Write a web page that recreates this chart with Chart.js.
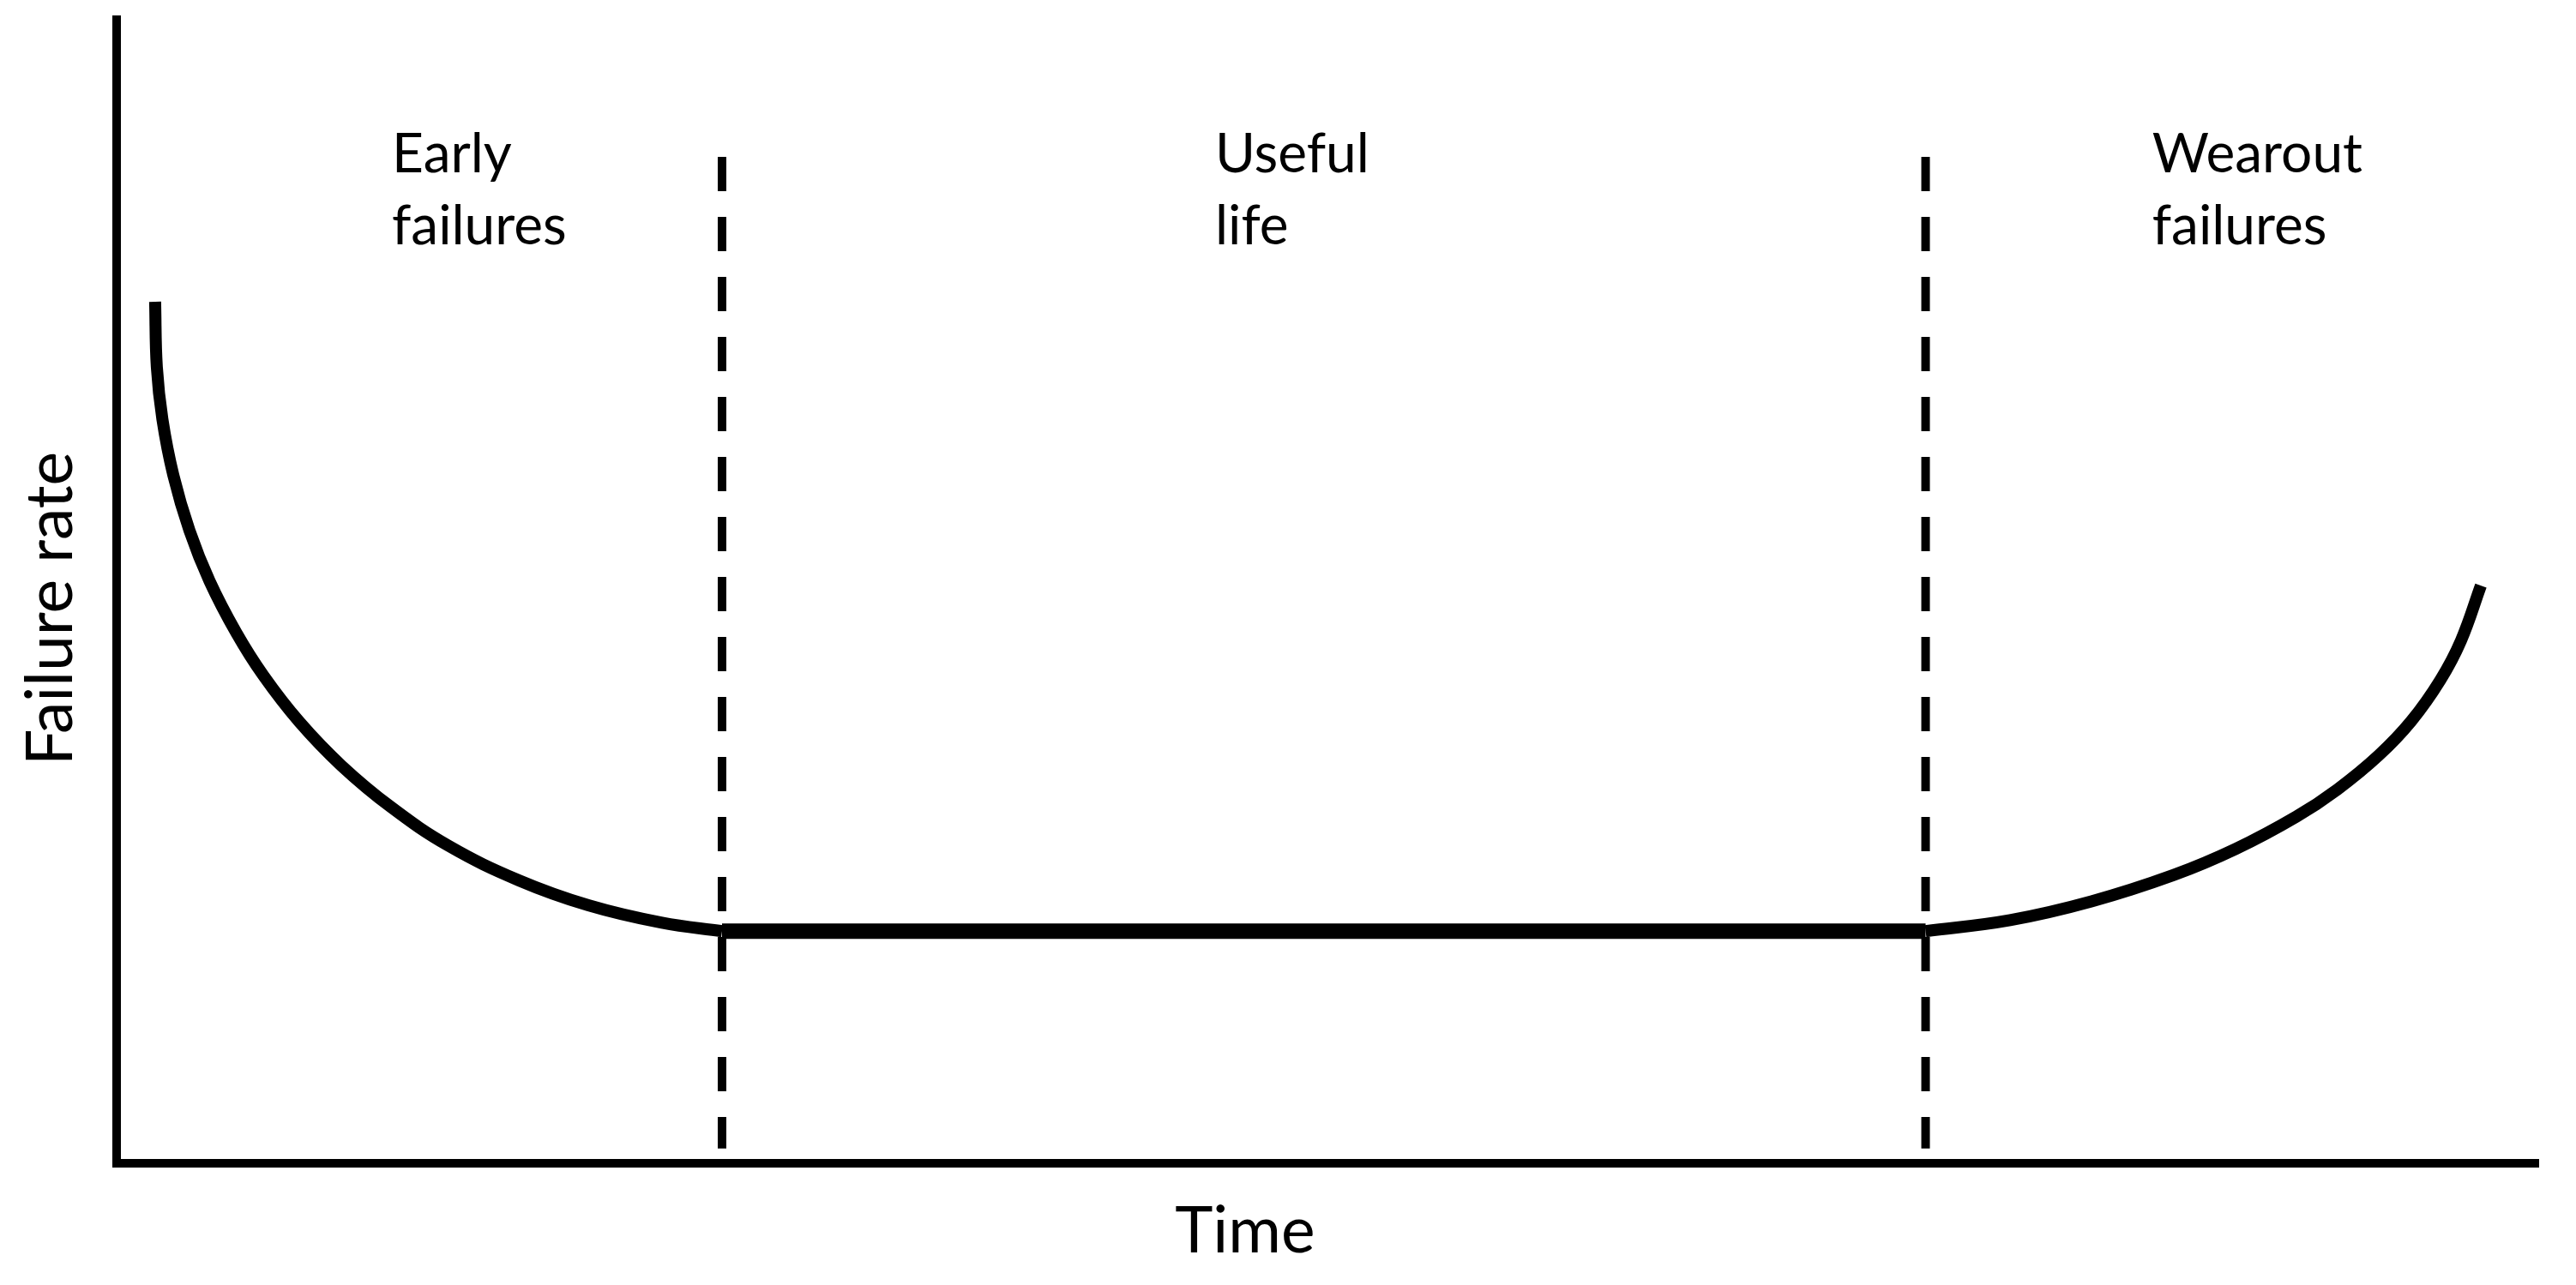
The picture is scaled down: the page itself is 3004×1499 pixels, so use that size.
<!DOCTYPE html>
<html>
<head>
<meta charset="utf-8">
<title>Bathtub curve</title>
<script src="https://cdn.jsdelivr.net/npm/chart.js@4.4.1/dist/chart.umd.min.js"></script>
<style>
    html, body { margin: 0; padding: 0; background: #fff; }
    #wrap { width: 3004px; height: 1499px; }
</style>
</head>
<body>
<div id="wrap"><canvas id="bathtub" width="3004" height="1499"></canvas></div>
<script>
// Time runs 0..100 along the x axis, failure rate 0..100 up the y axis

// Early failures: falling part of the curve
const earlyTime = [1.59, 1.66, 1.89, 2.34, 3.01, 3.84, 4.94, 6.06, 7.54, 9.28, 11.33, 13.7, 16.61, 19.48, 22.52, 25];
const earlyRate = [75.34, 69.64, 65.07, 60.19, 55.32, 50.9, 46.4, 42.65, 38.61, 34.78, 31.15, 27.77, 24.74, 22.56, 21.03, 20.3];

// Useful life: flat part
const usefulTime = [25, 74.7];
const usefulRate = [20.3, 20.3];

// Wearout failures: rising part
const wearoutTime = [74.7, 78.19, 81.55, 84.95, 87.5, 90.01, 91.71, 93.41, 94.76, 95.96, 96.81, 97.63];
const wearoutRate = [20.3, 21.26, 22.9, 25.21, 27.48, 30.31, 32.7, 35.67, 38.68, 42.27, 45.71, 50.52];

// Phase boundaries (dashed lines) and how far up they go
const boundaryTimes = [25, 74.7];
const boundaryRange = [88, 1.3];

// Texts
const phaseNames = [["Early", "failures"], ["Useful", "life"], ["Wearout", "failures"]];
const xTitle = "Time";
const yTitle = "Failure rate";

const toPoints = (xs, ys) => xs.map((v, i) => ({ x: v, y: ys[i] }));

const datasets = [
    { data: toPoints(earlyTime, earlyRate), borderWidth: 14, tension: 0.4 },
    { data: toPoints(usefulTime, usefulRate), borderWidth: 18 },
    { data: toPoints(wearoutTime, wearoutRate), borderWidth: 14, tension: 0.4 },
];
boundaryTimes.forEach((t) => {
    datasets.push({
        data: boundaryRange.map((r) => ({ x: t, y: r })),
        borderWidth: 10,
        borderDash: [40, 30],
    });
});
datasets.forEach((d) => {
    d.borderColor = "#000";
    d.pointRadius = 0;
    d.fill = false;
    d.borderJoinStyle = "round";
});

// Draws the phase names and the axis titles
const textPlugin = {
    id: "bathtubText",
    afterDraw(chart, args, opts) {
        const { ctx, scales: { x, y } } = chart;
        ctx.save();
        ctx.fillStyle = "#000";
        ctx.textBaseline = "alphabetic";

        ctx.font = opts.phaseFont;
        ctx.textAlign = "left";
        phaseNames.forEach((lines, i) => {
            const px = x.getPixelForValue(opts.phaseAt[i]);
            const py = y.getPixelForValue(opts.phaseBaseline);
            lines.forEach((line, j) => ctx.fillText(line, px, py + j * opts.lineHeight));
        });

        ctx.font = opts.titleFont;
        ctx.textAlign = "center";
        ctx.fillText(xTitle, x.getPixelForValue(opts.xTitleAt), opts.xTitleBaseline);

        ctx.translate(opts.yTitleBaseline, y.getPixelForValue(opts.yTitleAt));
        ctx.rotate(-Math.PI / 2);
        ctx.fillText(yTitle, 0, 0);
        ctx.restore();
    },
};

const hiddenAxis = {
    type: "linear",
    min: 0,
    max: 100,
    grid: { display: false, drawTicks: false },
    ticks: { display: false },
    border: { display: true, color: "#000", width: 10 },
};

new Chart(document.getElementById("bathtub"), {
    type: "line",
    data: { datasets },
    options: {
        responsive: false,
        animation: false,
        layout: { padding: { left: 136, top: 23, right: 44, bottom: 142 } },
        plugins: {
            legend: { display: false },
            tooltip: { enabled: false },
            bathtubText: {
                phaseFont: "64px Lato",
                titleFont: "75px Lato",
                phaseAt: [11.37, 45.36, 84.06],
                phaseBaseline: 86.65,
                lineHeight: 84,
                xTitleAt: 46.6,
                xTitleBaseline: 1461,
                yTitleAt: 48.5,
                yTitleBaseline: 84,
            },
        },
        scales: {
            x: { ...hiddenAxis, afterFit: (s) => { s.height = 0; } },
            y: { ...hiddenAxis, afterFit: (s) => { s.width = 0; } },
        },
    },
    plugins: [textPlugin],
});
</script>
</body>
</html>
